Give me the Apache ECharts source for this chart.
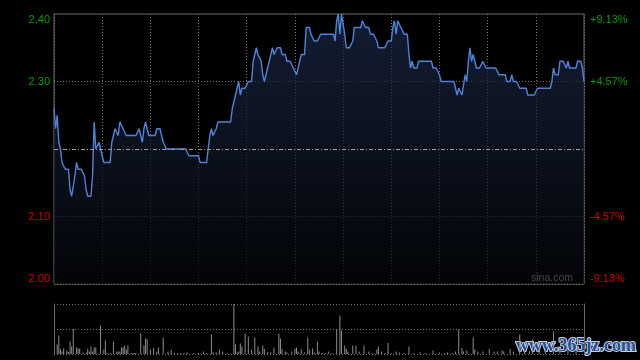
<!DOCTYPE html>
<html><head><meta charset="utf-8">
<script src="https://cdn.jsdelivr.net/npm/echarts@6/dist/echarts.min.js"></script>
<style>html,body{margin:0;padding:0;background:#000}#c{width:640px;height:360px}</style>
</head><body><div id="c"></div>
<script>
// minute-by-minute price, 09:30-12:00 + 13:00-16:00 (331 points)
const prices = [
2.26,2.23,2.25,2.21,2.20,2.18,2.18,2.17,2.17,2.17,
2.14,2.13,2.13,2.16,2.18,2.17,2.17,2.17,2.17,2.16,
2.14,2.13,2.13,2.13,2.16,2.24,2.20,2.20,2.21,2.21,
2.19,2.18,2.18,2.18,2.18,2.18,2.21,2.22,2.23,2.23,
2.22,2.24,2.24,2.23,2.23,2.22,2.22,2.22,2.22,2.22,
2.22,2.22,2.22,2.23,2.23,2.21,2.23,2.24,2.24,2.22,
2.22,2.22,2.22,2.22,2.23,2.23,2.23,2.22,2.21,2.21,
2.20,2.20,2.20,2.20,2.20,2.20,2.20,2.20,2.20,2.20,
2.20,2.20,2.20,2.20,2.19,2.19,2.19,2.19,2.19,2.19,
2.19,2.18,2.18,2.18,2.18,2.18,2.18,2.22,2.23,2.22,
2.22,2.23,2.24,2.24,2.24,2.24,2.24,2.24,2.24,2.24,
2.24,2.26,2.27,2.28,2.29,2.30,2.28,2.29,2.29,2.29,
2.29,2.30,2.30,2.30,2.33,2.33,2.35,2.34,2.34,2.33,
2.31,2.30,2.31,2.31,2.33,2.33,2.35,2.34,2.34,2.35,
2.35,2.35,2.34,2.34,2.34,2.33,2.33,2.33,2.33,2.32,
2.32,2.31,2.32,2.33,2.34,2.34,2.34,2.38,2.38,2.38,
2.37,2.37,2.36,2.36,2.36,2.36,2.37,2.37,2.37,2.37,
2.37,2.37,2.37,2.37,2.37,2.36,2.39,2.40,2.37,2.40,
2.40,2.37,2.35,2.35,2.35,2.35,2.36,2.38,2.38,2.38,
2.38,2.38,2.39,2.39,2.38,2.38,2.38,2.37,2.37,2.37,
2.37,2.36,2.35,2.35,2.35,2.35,2.35,2.35,2.36,2.36,
2.36,2.38,2.39,2.37,2.39,2.39,2.38,2.38,2.37,2.37,
2.37,2.34,2.32,2.33,2.32,2.32,2.32,2.33,2.33,2.33,
2.33,2.33,2.33,2.33,2.33,2.33,2.32,2.32,2.32,2.32,
2.31,2.30,2.30,2.30,2.30,2.30,2.30,2.30,2.30,2.30,
2.30,2.28,2.29,2.29,2.28,2.28,2.31,2.30,2.33,2.35,
2.33,2.34,2.34,2.32,2.32,2.32,2.32,2.33,2.33,2.32,
2.32,2.32,2.32,2.32,2.32,2.32,2.32,2.31,2.31,2.31,
2.31,2.31,2.30,2.30,2.30,2.31,2.30,2.30,2.30,2.30,
2.29,2.29,2.29,2.29,2.29,2.28,2.28,2.28,2.28,2.28,
2.28,2.29,2.29,2.29,2.29,2.29,2.29,2.29,2.29,2.29,
2.30,2.32,2.31,2.31,2.31,2.33,2.33,2.33,2.33,2.32,
2.33,2.32,2.32,2.32,2.32,2.32,2.33,2.33,2.33,2.32,
2.30
];
const prevClose = 2.20;
const priceTicks = [2.00, 2.10, 2.30, 2.40];
const priceTickLabels = ['2.00', '2.10', '2.30', '2.40'];
const pctTickLabels = ['-9.13%', '-4.57%', '+4.57%', '+9.13%'];

// volume bars: minute index and relative volume
const volMinutes = [2,3,4,5,6,8,9,10,11,12,14,15,16,18,20,21,22,23,24,25,26,29,31,32,33,35,37,39,40,41,42,43,44,45,46,48,49,50,51,54,56,57,58,60,62,64,65,68,71,73,75,77,79,81,83,87,90,93,95,98,99,101,103,105,108,112,113,114,115,116,117,119,121,123,125,127,128,130,131,133,135,137,140,141,142,144,145,148,150,151,152,154,156,158,159,161,162,164,165,167,169,171,173,176,178,179,181,182,183,186,188,190,193,196,198,201,202,204,206,208,210,213,215,218,221,224,228,231,236,240,243,245,248,250,252,254,255,257,261,262,264,267,271,274,276,279,280,284,286,290,293,296,298,302,306,311,315,320,325];
const volValues  = [19,37,10,5,11,7,4,25,15,50,13,11,11,3,3,10,5,15,5,13,13,57,9,27,2,2,25,5,5,5,13,13,17,9,17,2,2,2,2,41,17,31,29,9,12,5,13,33,5,9,2,2,2,2,3,2,2,5,2,39,3,3,9,5,2,100,19,3,5,21,15,41,35,9,33,15,5,17,10,3,3,13,41,31,10,5,3,5,11,13,5,9,3,33,9,11,3,25,5,2,2,5,2,49,77,47,17,10,5,17,17,5,17,5,2,9,15,5,2,22,2,5,3,2,15,2,3,2,7,3,2,3,2,5,49,12,5,7,33,9,5,5,10,5,5,7,5,10,5,39,8,6,29,10,6,45,12,8,5];

const GREEN = '#00a000', RED = '#dd0000', GRID = '#747474', FONT = 'Arial, "Liberation Sans", sans-serif';
const priceData = prices.map((p, i) => [i, p]);
const volData = volMinutes.map((m, i) => [m, volValues[i]]);
function tickIndex(v) { for (let k = 0; k < priceTicks.length; k++) if (Math.abs(priceTicks[k] - v) < 1e-6) return k; return -1; }

const chart = echarts.init(document.getElementById('c'), null, { renderer: 'canvas' });
chart.setOption({
  backgroundColor: '#000',
  animation: false,
  grid: [
    { left: 54, right: 56, top: 14, height: 270, show: true, borderColor: '#6a6a6a', borderWidth: 1, backgroundColor: 'transparent' },
    { left: 54, right: 56, top: 304, height: 50 }
  ],
  xAxis: [
    { type: 'value', gridIndex: 0, min: 0, max: 330, interval: 30,
      axisLine: { show: false }, axisTick: { show: false }, axisLabel: { show: false },
      splitLine: { show: true, lineStyle: { color: GRID, type: [1, 2], width: 1 } } },
    { type: 'value', gridIndex: 1, min: 0, max: 330, interval: 30,
      axisLine: { show: false }, axisTick: { show: false }, axisLabel: { show: false }, splitLine: { show: false } }
  ],
  yAxis: [
    { type: 'value', gridIndex: 0, min: 2.0, max: 2.4, interval: 0.1, position: 'left',
      axisLine: { show: false }, axisTick: { show: false },
      splitLine: { show: true, lineStyle: { color: [GRID, GRID, 'rgba(0,0,0,0)', GRID, 'rgba(0,0,0,0)'], type: [1, 2], width: 1 } },
      axisLabel: { margin: 4, fontSize: 11, fontFamily: FONT,
        verticalAlignMaxLabel: 'top', verticalAlignMinLabel: 'bottom',
        formatter: v => { const k = tickIndex(v); return k < 0 ? '' : priceTickLabels[k]; },
        color: v => v > prevClose ? GREEN : RED } },
    { type: 'value', gridIndex: 0, min: 2.0, max: 2.4, interval: 0.1, position: 'right',
      axisLine: { show: false }, axisTick: { show: false }, splitLine: { show: false },
      axisLabel: { margin: 6, fontSize: 11, fontFamily: FONT,
        verticalAlignMaxLabel: 'top', verticalAlignMinLabel: 'bottom',
        formatter: v => { const k = tickIndex(v); return k < 0 ? '' : pctTickLabels[k]; },
        color: v => v > prevClose ? GREEN : RED } },
    { type: 'value', gridIndex: 1, min: 0, max: 100, interval: 50, position: 'left',
      axisLine: { show: true, lineStyle: { color: '#6a6a6a' } }, axisTick: { show: false }, axisLabel: { show: false },
      splitLine: { show: true, lineStyle: { color: GRID, type: [1, 2] } } },
    { type: 'value', gridIndex: 1, min: 0, max: 100, interval: 50, position: 'right',
      axisLine: { show: true, lineStyle: { color: '#6a6a6a' } }, axisTick: { show: false }, axisLabel: { show: false }, splitLine: { show: false } }
  ],
  series: [
    { type: 'line', xAxisIndex: 0, yAxisIndex: 0, data: priceData, showSymbol: false, smooth: false,
      lineStyle: { color: '#4d84da', width: 1.4 },
      areaStyle: { origin: 'start', color: new echarts.graphic.LinearGradient(0, 0, 0, 1, [
        { offset: 0, color: '#1b2947' }, { offset: 1, color: '#04060b' }]) },
      markLine: { silent: true, symbol: ['none', 'none'], label: { show: false },
        lineStyle: { color: '#a0a0a0', type: [4, 2, 1, 2], width: 1 },
        data: [{ yAxis: prevClose }] } },
    { type: 'bar', xAxisIndex: 1, yAxisIndex: 2, data: volData, barWidth: 1,
      itemStyle: { color: '#8c8c8c' } }
  ],
  graphic: [
    { type: 'text', right: 67, top: 273, style: { text: 'sina.com', fill: '#d0d0d0', font: '10.5px ' + FONT } },
    { type: 'text', left: 515, top: 336, style: { text: 'www.365jz.com', fill: '#1e4f9c', font: 'bold 18px "Liberation Serif", serif',
      stroke: '#c9d0dc', lineWidth: 2, shadowColor: 'rgba(160,170,190,0.8)', shadowBlur: 2 } }
  ]
});
</script></body></html>
